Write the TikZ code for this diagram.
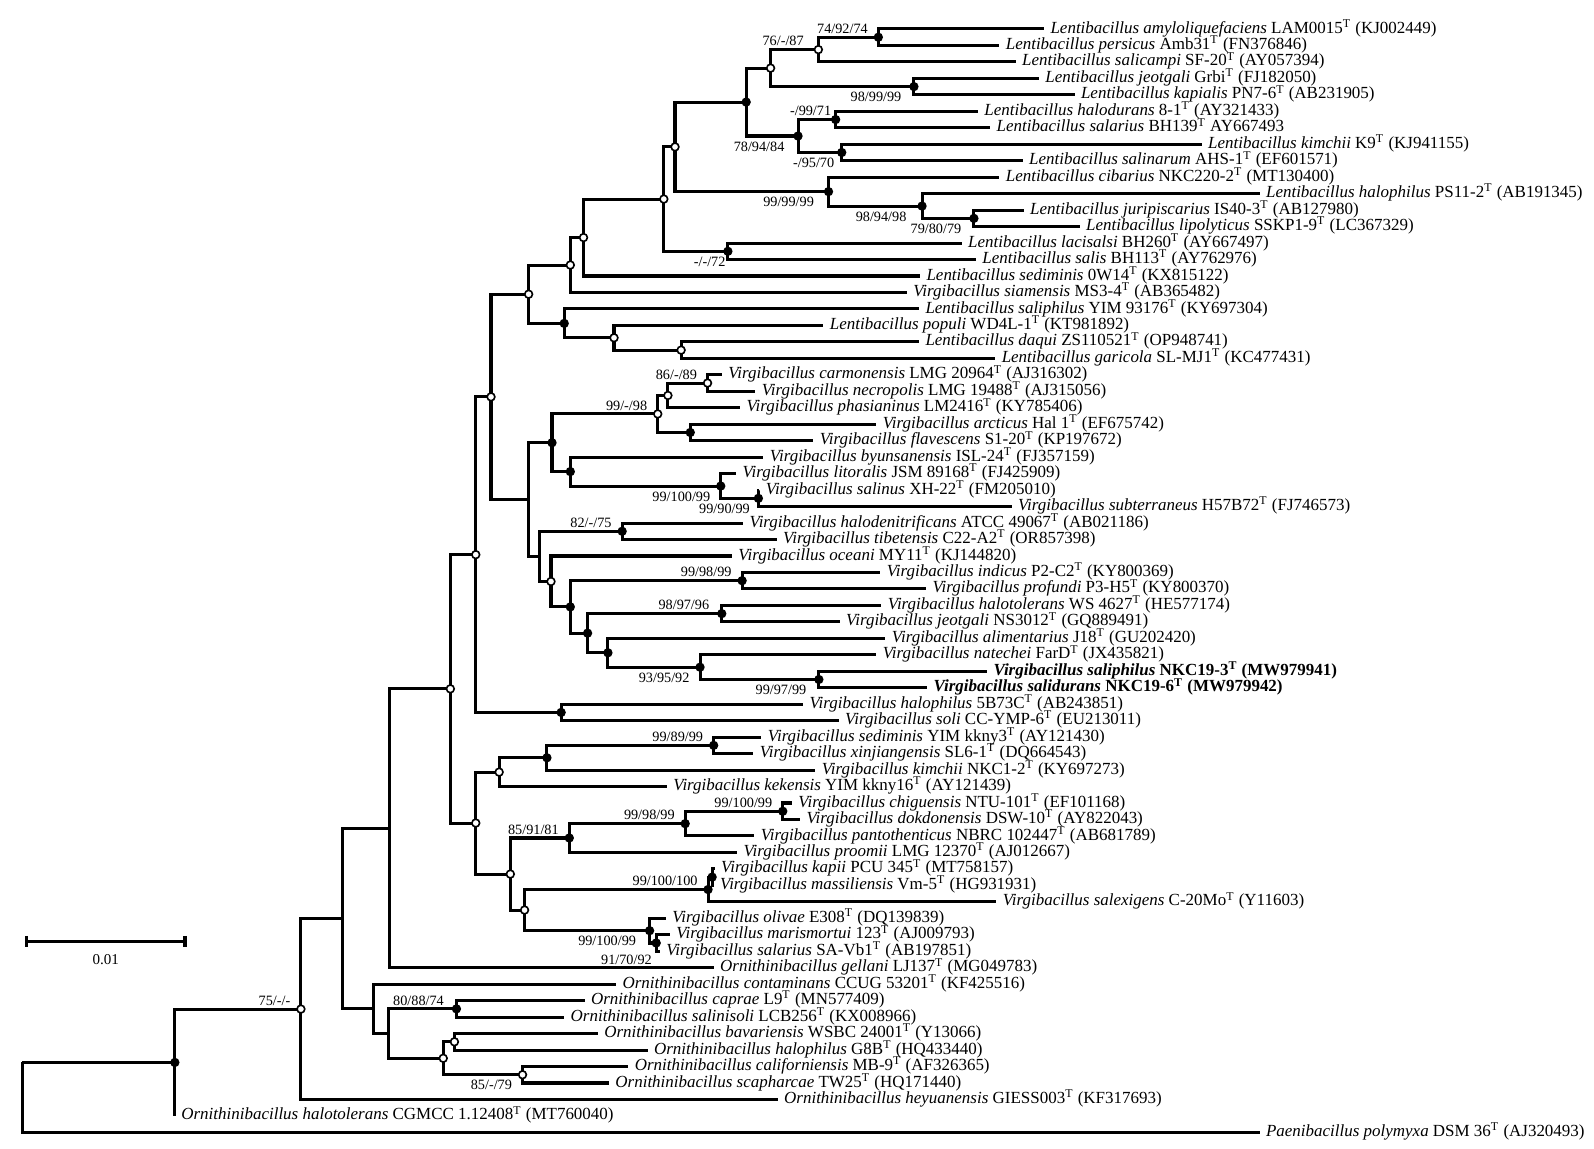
\documentclass[tikz,border=0pt]{standalone}
\usepackage{fontspec}
\setmainfont{Liberation Serif}
\newcommand{\Tsup}{\textsuperscript{T}}

\begin{document}
\begin{tikzpicture}[x=0.5pt,y=-0.5pt,
	br/.style={line width=1.5pt},
	leaf/.style={anchor=west,inner xsep=3pt,inner ysep=0pt,text height=5.5pt,text depth=1.5pt,font=\fontsize{8.35}{10}\selectfont},
	bs/.style={inner sep=0.5pt,text height=4.8pt,text depth=1.2pt,xshift=-4.5pt,font=\fontsize{7}{8}\selectfont},
	bsa/.style={bs,anchor=south east},
	bsb/.style={bs,anchor=north east,yshift=-2pt},
	fdot/.style={circle,fill=black,inner sep=0pt,minimum size=4.6pt},
	odot/.style={circle,draw=black,fill=white,line width=0.8pt,inner sep=0pt,minimum size=3.8pt}]
	\useasboundingbox (0,-1.5) rectangle (1568,1128.5);
	
	% taxa
	\node[leaf] (l1) at (1027,27) {\textit{Lentibacillus amyloliquefaciens} LAM0015\Tsup{} (KJ002449)};
	\node[leaf] (l2) at (983,43.2) {\textit{Lentibacillus persicus} Amb31\Tsup{} (FN376846)};
	\node[leaf] (l3) at (999,59.4) {\textit{Lentibacillus salicampi} SF-20\Tsup{} (AY057394)};
	\node[leaf] (l4) at (1022,75.6) {\textit{Lentibacillus jeotgali} Grbi\Tsup{} (FJ182050)};
	\node[leaf] (l5) at (1057,91.8) {\textit{Lentibacillus kapialis} PN7-6\Tsup{} (AB231905)};
	\node[leaf] (l6) at (962,108) {\textit{Lentibacillus halodurans} 8-1\Tsup{} (AY321433)};
	\node[leaf] (l7) at (974,124.2) {\textit{Lentibacillus salarius} BH139\Tsup{} AY667493};
	\node[leaf] (l8) at (1182,140.4) {\textit{Lentibacillus kimchii} K9\Tsup{} (KJ941155)};
	\node[leaf] (l9) at (1006,156.6) {\textit{Lentibacillus salinarum} AHS-1\Tsup{} (EF601571)};
	\node[leaf] (l10) at (983,172.8) {\textit{Lentibacillus cibarius} NKC220-2\Tsup{} (MT130400)};
	\node[leaf] (l11) at (1239,189) {\textit{Lentibacillus halophilus} PS11-2\Tsup{} (AB191345)};
	\node[leaf] (l12) at (1007,205.2) {\textit{Lentibacillus juripiscarius} IS40-3\Tsup{} (AB127980)};
	\node[leaf] (l13) at (1062,221.4) {\textit{Lentibacillus lipolyticus} SSKP1-9\Tsup{} (LC367329)};
	\node[leaf] (l14) at (946,237.6) {\textit{Lentibacillus lacisalsi} BH260\Tsup{} (AY667497)};
	\node[leaf] (l15) at (960,253.8) {\textit{Lentibacillus salis} BH113\Tsup{} (AY762976)};
	\node[leaf] (l16) at (905,270) {\textit{Lentibacillus sediminis} 0W14\Tsup{} (KX815122)};
	\node[leaf] (l17) at (892,286.2) {\textit{Virgibacillus siamensis} MS3-4\Tsup{} (AB365482)};
	\node[leaf] (l18) at (904,302.4) {\textit{Lentibacillus saliphilus} YIM 93176\Tsup{} (KY697304)};
	\node[leaf] (l19) at (810,318.6) {\textit{Lentibacillus populi} WD4L-1\Tsup{} (KT981892)};
	\node[leaf] (l20) at (904,334.8) {\textit{Lentibacillus daqui} ZS110521\Tsup{} (OP948741)};
	\node[leaf] (l21) at (979,351) {\textit{Lentibacillus garicola} SL-MJ1\Tsup{} (KC477431)};
	\node[leaf] (l22) at (710,367.2) {\textit{Virgibacillus carmonensis} LMG 20964\Tsup{} (AJ316302)};
	\node[leaf] (l23) at (743,383.4) {\textit{Virgibacillus necropolis} LMG 19488\Tsup{} (AJ315056)};
	\node[leaf] (l24) at (728,399.6) {\textit{Virgibacillus phasianinus} LM2416\Tsup{} (KY785406)};
	\node[leaf] (l25) at (862,415.8) {\textit{Virgibacillus arcticus} Hal 1\Tsup{} (EF675742)};
	\node[leaf] (l26) at (800,432) {\textit{Virgibacillus flavescens} S1-20\Tsup{} (KP197672)};
	\node[leaf] (l27) at (751,448.2) {\textit{Virgibacillus byunsanensis} ISL-24\Tsup{} (FJ357159)};
	\node[leaf] (l28) at (724,464.4) {\textit{Virgibacillus litoralis} JSM 89168\Tsup{} (FJ425909)};
	\node[leaf] (l29) at (747,480.6) {\textit{Virgibacillus salinus} XH-22\Tsup{} (FM205010)};
	\node[leaf] (l30) at (995,496.8) {\textit{Virgibacillus subterraneus} H57B72\Tsup{} (FJ746573)};
	\node[leaf] (l31) at (731,513) {\textit{Virgibacillus halodenitrificans} ATCC 49067\Tsup{} (AB021186)};
	\node[leaf] (l32) at (764,529.2) {\textit{Virgibacillus tibetensis} C22-A2\Tsup{} (OR857398)};
	\node[leaf] (l33) at (720,545.4) {\textit{Virgibacillus oceani} MY11\Tsup{} (KJ144820)};
	\node[leaf] (l34) at (866,561.6) {\textit{Virgibacillus indicus} P2-C2\Tsup{} (KY800369)};
	\node[leaf] (l35) at (911,577.8) {\textit{Virgibacillus profundi} P3-H5\Tsup{} (KY800370)};
	\node[leaf] (l36) at (867,594) {\textit{Virgibacillus halotolerans} WS 4627\Tsup{} (HE577174)};
	\node[leaf] (l37) at (826,610.2) {\textit{Virgibacillus jeotgali} NS3012\Tsup{} (GQ889491)};
	\node[leaf] (l38) at (871,626.4) {\textit{Virgibacillus alimentarius} J18\Tsup{} (GU202420)};
	\node[leaf] (l39) at (862,642.6) {\textit{Virgibacillus natechei} FarD\Tsup{} (JX435821)};
	\node[leaf] (l40) at (971,658.8) {\textbf{\textit{Virgibacillus saliphilus} NKC19-3\Tsup{} (MW979941)}};
	\node[leaf] (l41) at (912,675) {\textbf{\textit{Virgibacillus salidurans} NKC19-6\Tsup{} (MW979942)}};
	\node[leaf] (l42) at (790,691.2) {\textit{Virgibacillus halophilus} 5B73C\Tsup{} (AB243851)};
	\node[leaf] (l43) at (825,707.4) {\textit{Virgibacillus soli} CC-YMP-6\Tsup{} (EU213011)};
	\node[leaf] (l44) at (749,723.6) {\textit{Virgibacillus sediminis} YIM kkny3\Tsup{} (AY121430)};
	\node[leaf] (l45) at (741,739.8) {\textit{Virgibacillus xinjiangensis} SL6-1\Tsup{} (DQ664543)};
	\node[leaf] (l46) at (802,756) {\textit{Virgibacillus kimchii} NKC1-2\Tsup{} (KY697273)};
	\node[leaf] (l47) at (656,772.2) {\textit{Virgibacillus kekensis} YIM kkny16\Tsup{} (AY121439)};
	\node[leaf] (l48) at (779,788.4) {\textit{Virgibacillus chiguensis} NTU-101\Tsup{} (EF101168)};
	\node[leaf] (l49) at (787,804.6) {\textit{Virgibacillus dokdonensis} DSW-10\Tsup{} (AY822043)};
	\node[leaf] (l50) at (742,820.8) {\textit{Virgibacillus pantothenticus} NBRC 102447\Tsup{} (AB681789)};
	\node[leaf] (l51) at (725,837) {\textit{Virgibacillus proomii} LMG 12370\Tsup{} (AJ012667)};
	\node[leaf] (l52) at (703,853.2) {\textit{Virgibacillus kapii} PCU 345\Tsup{} (MT758157)};
	\node[leaf] (l53) at (702,869.4) {\textit{Virgibacillus massiliensis} Vm-5\Tsup{} (HG931931)};
	\node[leaf] (l54) at (980,885.6) {\textit{Virgibacillus salexigens} C-20Mo\Tsup{} (Y11603)};
	\node[leaf] (l55) at (655,901.8) {\textit{Virgibacillus olivae} E308\Tsup{} (DQ139839)};
	\node[leaf] (l56) at (659,918) {\textit{Virgibacillus marismortui} 123\Tsup{} (AJ009793)};
	\node[leaf] (l57) at (649,934.2) {\textit{Virgibacillus salarius} SA-Vb1\Tsup{} (AB197851)};
	\node[leaf] (l58) at (702,950.4) {\textit{Ornithinibacillus gellani} LJ137\Tsup{} (MG049783)};
	\node[leaf] (l59) at (606,966.6) {\textit{Ornithinibacillus contaminans} CCUG 53201\Tsup{} (KF425516)};
	\node[leaf] (l60) at (575,982.8) {\textit{Ornithinibacillus caprae} L9\Tsup{} (MN577409)};
	\node[leaf] (l61) at (555,999) {\textit{Ornithinibacillus salinisoli} LCB256\Tsup{} (KX008966)};
	\node[leaf] (l62) at (588,1015.2) {\textit{Ornithinibacillus bavariensis} WSBC 24001\Tsup{} (Y13066)};
	\node[leaf] (l63) at (637,1031.4) {\textit{Ornithinibacillus halophilus} G8B\Tsup{} (HQ433440)};
	\node[leaf] (l64) at (618,1047.6) {\textit{Ornithinibacillus californiensis} MB-9\Tsup{} (AF326365)};
	\node[leaf] (l65) at (599,1063.8) {\textit{Ornithinibacillus scapharcae} TW25\Tsup{} (HQ171440)};
	\node[leaf] (l66) at (765,1080) {\textit{Ornithinibacillus heyuanensis} GIESS003\Tsup{} (KF317693)};
	\node[leaf] (l67) at (172,1096.2) {\textit{Ornithinibacillus halotolerans} CGMCC 1.12408\Tsup{} (MT760040)};
	\node[leaf] (l68) at (1239,1112.4) {\textit{Paenibacillus polymyxa} DSM 36\Tsup{} (AJ320493)};
	
	% inner nodes
	\coordinate (n1) at (864,35.1);
	\coordinate (n2) at (805,47.3);
	\coordinate (n3) at (758,65.5);
	\coordinate (n4) at (899,83.7);
	\coordinate (n5) at (734,98.9);
	\coordinate (n6) at (785,132.3);
	\coordinate (n7) at (822,116.1);
	\coordinate (n8) at (828,148.5);
	\coordinate (n9) at (664,143);
	\coordinate (n10) at (815,187);
	\coordinate (n11) at (907,201.2);
	\coordinate (n12) at (958,213.3);
	\coordinate (n13) at (716,245.7);
	\coordinate (n14) at (653,194.3);
	\coordinate (n15) at (574,232.2);
	\coordinate (n16) at (561,259.2);
	\coordinate (n17) at (520,287.9);
	\coordinate (n18) at (555,316.6);
	\coordinate (n19) at (604,330.8);
	\coordinate (n20) at (670,342.9);
	\coordinate (v1) at (696,375.3);
	\coordinate (v2) at (657,387.5);
	\coordinate (v3) at (679,423.9);
	\coordinate (v4) at (647,405.7);
	\coordinate (v5) at (561,462.4);
	\coordinate (v6) at (709,476.6);
	\coordinate (v7) at (746,488.7);
	\coordinate (v8) at (543,434);
	\coordinate (v9) at (612,521.1);
	\coordinate (v10) at (578,621.3);
	\coordinate (v11) at (710,602.1);
	\coordinate (v12) at (598,640.6);
	\coordinate (v13) at (688.6,654.8);
	\coordinate (v14) at (805.5,666.9);
	\coordinate (v15) at (730,569.7);
	\coordinate (v16) at (561,595.5);
	\coordinate (v17) at (542,570.5);
	\coordinate (v18) at (531,545.8);
	\coordinate (v19) at (520,489.9);
	\coordinate (v20) at (483,388.9);
	\coordinate (v21) at (552,699.3);
	\coordinate (v22) at (468,544.1);
	\coordinate (w1) at (702,731.7);
	\coordinate (w2) at (538,743.9);
	\coordinate (w3) at (491,758);
	\coordinate (w4) at (770,796.5);
	\coordinate (w5) at (674,808.7);
	\coordinate (w6) at (560,822.8);
	\coordinate (w7) at (700.5,861.3);
	\coordinate (w8) at (696.5,873.5);
	\coordinate (w9) at (639,914);
	\coordinate (w10) at (645.5,926.1);
	\coordinate (w11) at (516,893.7);
	\coordinate (w12) at (502,858.3);
	\coordinate (w13) at (468,808.1);
	\coordinate (w14) at (443,676.1);
	\coordinate (w15) at (383,813.3);
	\coordinate (o1) at (449,990.9);
	\coordinate (o2) at (447,1023.3);
	\coordinate (o3) at (514,1055.7);
	\coordinate (o4) at (436,1039.5);
	\coordinate (o5) at (382,1015.2);
	\coordinate (o6) at (367,990.9);
	\coordinate (o7) at (337,902.1);
	\coordinate (o8) at (296,991.1);
	\coordinate (o9) at (172,1043.6);
	\coordinate (rt) at (22,1043.6);
	
	% branches
	\draw[br] (n1) |- (l1) (n1) |- (l2);
	\draw[br] (n2) |- (n1) (n2) |- (l3);
	\draw[br] (n4) |- (l4) (n4) |- (l5);
	\draw[br] (n3) |- (n2) (n3) |- (n4);
	\draw[br] (n7) |- (l6) (n7) |- (l7);
	\draw[br] (n8) |- (l8) (n8) |- (l9);
	\draw[br] (n6) |- (n7) (n6) |- (n8);
	\draw[br] (n5) |- (n3) (n5) |- (n6);
	\draw[br] (n12) |- (l12) (n12) |- (l13);
	\draw[br] (n11) |- (l11) (n11) |- (n12);
	\draw[br] (n10) |- (l10) (n10) |- (n11);
	\draw[br] (n9) |- (n5) (n9) |- (n10);
	\draw[br] (n13) |- (l14) (n13) |- (l15);
	\draw[br] (n14) |- (n9) (n14) |- (n13);
	\draw[br] (n15) |- (n14) (n15) |- (l16);
	\draw[br] (n16) |- (n15) (n16) |- (l17);
	\draw[br] (n20) |- (l20) (n20) |- (l21);
	\draw[br] (n19) |- (l19) (n19) |- (n20);
	\draw[br] (n18) |- (l18) (n18) |- (n19);
	\draw[br] (n17) |- (n16) (n17) |- (n18);
	\draw[br] (v1) |- (l22) (v1) |- (l23);
	\draw[br] (v2) |- (v1) (v2) |- (l24);
	\draw[br] (v3) |- (l25) (v3) |- (l26);
	\draw[br] (v4) |- (v2) (v4) |- (v3);
	\draw[br] (v7) |- (l29) (v7) |- (l30);
	\draw[br] (v6) |- (l28) (v6) |- (v7);
	\draw[br] (v5) |- (l27) (v5) |- (v6);
	\draw[br] (v8) |- (v4) (v8) |- (v5);
	\draw[br] (v9) |- (l31) (v9) |- (l32);
	\draw[br] (v14) |- (l40) (v14) |- (l41);
	\draw[br] (v13) |- (l39) (v13) |- (v14);
	\draw[br] (v12) |- (l38) (v12) |- (v13);
	\draw[br] (v11) |- (l36) (v11) |- (l37);
	\draw[br] (v10) |- (v11) (v10) |- (v12);
	\draw[br] (v15) |- (l34) (v15) |- (l35);
	\draw[br] (v16) |- (v15) (v16) |- (v10);
	\draw[br] (v17) |- (l33) (v17) |- (v16);
	\draw[br] (v18) |- (v9) (v18) |- (v17);
	\draw[br] (v19) |- (v8) (v19) |- (v18);
	\draw[br] (v20) |- (n17) (v20) |- (v19);
	\draw[br] (v21) |- (l42) (v21) |- (l43);
	\draw[br] (v22) |- (v20) (v22) |- (v21);
	\draw[br] (w1) |- (l44) (w1) |- (l45);
	\draw[br] (w2) |- (w1) (w2) |- (l46);
	\draw[br] (w3) |- (w2) (w3) |- (l47);
	\draw[br] (w4) |- (l48) (w4) |- (l49);
	\draw[br] (w5) |- (w4) (w5) |- (l50);
	\draw[br] (w6) |- (w5) (w6) |- (l51);
	\draw[br] (w7) |- (l52) (w7) |- (l53);
	\draw[br] (w8) |- (w7) (w8) |- (l54);
	\draw[br] (w10) |- (l56) (w10) |- (l57);
	\draw[br] (w9) |- (l55) (w9) |- (w10);
	\draw[br] (w11) |- (w8) (w11) |- (w9);
	\draw[br] (w12) |- (w6) (w12) |- (w11);
	\draw[br] (w13) |- (w3) (w13) |- (w12);
	\draw[br] (w14) |- (v22) (w14) |- (w13);
	\draw[br] (w15) |- (w14) (w15) |- (l58);
	\draw[br] (o1) |- (l60) (o1) |- (l61);
	\draw[br] (o2) |- (l62) (o2) |- (l63);
	\draw[br] (o3) |- (l64) (o3) |- (l65);
	\draw[br] (o4) |- (o2) (o4) |- (o3);
	\draw[br] (o5) |- (o1) (o5) |- (o4);
	\draw[br] (o6) |- (l59) (o6) |- (o5);
	\draw[br] (o7) |- (w15) (o7) |- (o6);
	\draw[br] (o8) |- (o7) (o8) |- (l66);
	\draw[br] (o9) |- (o8) (o9) |- (l67);
	\draw[br] (rt) -- (o9) (rt) |- (l68);
	
	% support markers
	\foreach \p in {n1,n4,n5,n6,n7,n8,n10,n11,n12,n13,n18,v3,v5,v6,v7,v8,v9,v10,v11,v12,v13,v14,v15,v16,v21,w1,w2,w4,w5,w6,w7,w8,w9,w10,o1,o9}
		\node[fdot] (\p d) at (\p) {};
	\foreach \p in {n2,n3,n9,n14,n15,n16,n17,n19,n20,v1,v2,v4,v17,v20,v22,w3,w11,w12,w13,w14,o2,o3,o4,o8}
		\node[odot] (\p d) at (\p) {};
	
	% bootstrap values
	\node[bsa] (b1) at (n1) {74/92/74};
	\node[bsa,xshift=-2pt] (b2) at (n2) {76/-/87};
	\node[bsb,xshift=-1pt] (b4) at (n4) {98/99/99};
	\node[bsb,xshift=-1.5pt] (b6) at (n6) {78/94/84};
	\node[bsa,xshift=3pt] (b7) at (n7) {-/99/71};
	\node[bsb,xshift=1.5pt] (b8) at (n8) {-/95/70};
	\node[bsb,xshift=-2pt] (b10) at (n10) {99/99/99};
	\node[bsb,xshift=-2.5pt] (b11) at (n11) {98/94/98};
	\node[bsb,xshift=-1pt] (b12) at (n12) {79/80/79};
	\node[bsb,xshift=4pt] (b13) at (n13) {-/-/72};
	\node[bsa] (c1) at (v1) {86/-/89};
	\node[bsa] (c4) at (v4) {99/-/98};
	\node[bsb] (c6) at (v6) {99/100/99};
	\node[bsb,xshift=1pt] (c7) at (v7) {99/90/99};
	\node[bsa] (c9) at (v9) {82/-/75};
	\node[bsa] (c15) at (v15) {99/98/99};
	\node[bsa,xshift=-1pt] (c11) at (v11) {98/97/96};
	\node[bsb] (c13) at (v13) {93/95/92};
	\node[bsb,xshift=-1pt] (c14) at (v14) {99/97/99};
	\node[bsa] (d1) at (w1) {99/89/99};
	\node[bsa] (d4) at (w4) {99/100/99};
	\node[bsa] (d5) at (w5) {99/98/99};
	\node[bsa] (d6) at (w6) {85/91/81};
	\node[bsa] (d8) at (w8) {99/100/100};
	\node[bsb,xshift=-1.5pt] (d9) at (w9) {99/100/99};
	\node[bsb,xshift=3pt,yshift=-3pt] (d10) at (w10) {91/70/92};
	\node[bsa] (e8) at (o8) {75/-/-};
	\node[bsa,xshift=-1pt] (e1) at (o1) {80/88/74};
	\node[bsb] (e3) at (o3) {85/-/79};
	
	% scale
	\coordinate (s1) at (26,924.5);
	\coordinate (s2) at (182,924.5);
	\draw[br] (s1) -- (s2);
	\draw[br] (s1) ++(0,-5.5) -- ++(0,11);
	\draw[br] (s2) ++(0,-5.5) -- ++(0,11);
	\node[font=\fontsize{7.4}{9}\selectfont] (sl) at (104,942.5) {0.01};
\end{tikzpicture}
\end{document}
